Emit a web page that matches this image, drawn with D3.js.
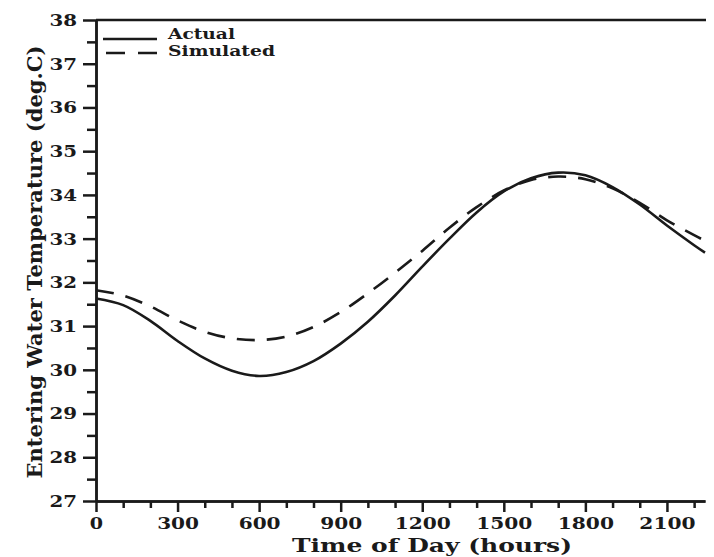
<!DOCTYPE html>
<html>
<head>
<title>Entering water temperature</title>
<script src="https://d3js.org/d3.v7.min.js" charset="utf-8"></script>
<style>
body { margin: 0; background: #fff; }
text { font-family: "DejaVu Serif", serif; font-weight: bold; fill: #1a1a1a; }
.axis path, .axis line { stroke: #1a1a1a; stroke-width: 2.5; }
</style>
</head>
<body>
<script>
// time of day (hours, hhmm) and temperatures (deg.C)
var hours = [0, 100, 200, 300, 400, 500, 600, 700, 800, 900, 1000, 1100,
             1200, 1300, 1400, 1500, 1600, 1700, 1800, 1900, 2000, 2100, 2200, 2240];
var actual = [31.63, 31.48, 31.12, 30.66, 30.26, 29.98, 29.86, 29.95, 30.2, 30.6, 31.1, 31.7,
              32.36, 33.0, 33.6, 34.08, 34.38, 34.51, 34.45, 34.18, 33.78, 33.3, 32.85, 32.68];
var simulated = [31.82, 31.7, 31.45, 31.13, 30.87, 30.72, 30.68, 30.76, 30.98, 31.32, 31.75, 32.22,
                 32.72, 33.25, 33.72, 34.1, 34.34, 34.42, 34.36, 34.15, 33.82, 33.42, 33.08, 32.95];
var xTicks = [0, 300, 600, 900, 1200, 1500, 1800, 2100];
var yTicks = [27, 28, 29, 30, 31, 32, 33, 34, 35, 36, 37, 38];

var width = 714, height = 557;

var svg = d3.select("body").append("svg")
  .attr("width", width)
  .attr("height", height);

var x = d3.scaleLinear().domain([0, 2240]).range([96, 705]);
var y = d3.scaleLinear().domain([27, 38]).range([501, 20]);

// minor ticks first so the major ones sit on top
svg.append("g").attr("class", "axis")
  .attr("transform", "translate(0,501)")
  .call(d3.axisBottom(x).tickValues(d3.range(100, 2300, 100).filter(function(d) { return d % 300 != 0; }))
    .tickSize(7).tickSizeOuter(0).tickFormat(""));

svg.append("g").attr("class", "axis")
  .attr("transform", "translate(96,0)")
  .call(d3.axisLeft(y).tickValues(d3.range(27.5, 38, 1)).tickSize(9).tickSizeOuter(0).tickFormat(""));

var xAxis = svg.append("g").attr("class", "axis")
  .attr("transform", "translate(0,501)")
  .call(d3.axisBottom(x).tickValues(xTicks).tickSize(11).tickSizeOuter(0).tickPadding(5)
    .tickFormat(d3.format("d")));

var yAxis = svg.append("g").attr("class", "axis")
  .attr("transform", "translate(96,0)")
  .call(d3.axisLeft(y).tickValues(yTicks).tickSize(13).tickSizeOuter(0).tickPadding(6)
    .tickFormat(d3.format("d")));

// wide, heavy tick labels like the plotter font
svg.selectAll(".axis text")
  .attr("font-size", 17)
  .attr("font-family", null)
  .attr("lengthAdjust", "spacingAndGlyphs")
  .attr("textLength", function(d) { return String(d).length * 14.3 - 1; });

// top frame line
svg.append("line")
  .attr("x1", x(0)).attr("x2", x(2240) + 1)
  .attr("y1", y(38)).attr("y2", y(38))
  .attr("stroke", "#1a1a1a").attr("stroke-width", 2.5);

var line = d3.line()
  .x(function(d, i) { return x(hours[i]); })
  .y(function(d) { return y(d); })
  .curve(d3.curveCatmullRom);

svg.append("path")
  .datum(simulated)
  .attr("d", line)
  .attr("fill", "none")
  .attr("stroke", "#1a1a1a")
  .attr("stroke-width", 2.6)
  .attr("stroke-dasharray", "18,12");

svg.append("path")
  .datum(actual)
  .attr("d", line)
  .attr("fill", "none")
  .attr("stroke", "#1a1a1a")
  .attr("stroke-width", 2.6);

// legend
var legend = svg.append("g");
legend.append("line")
  .attr("x1", 103).attr("x2", 157).attr("y1", 39).attr("y2", 39)
  .attr("stroke", "#1a1a1a").attr("stroke-width", 2.5);
legend.append("line")
  .attr("x1", 106).attr("x2", 157).attr("y1", 53).attr("y2", 53)
  .attr("stroke", "#1a1a1a").attr("stroke-width", 2.5)
  .attr("stroke-dasharray", "19,13");
legend.append("text").attr("x", 168).attr("y", 39)
  .attr("font-size", 15).attr("textLength", 67).attr("lengthAdjust", "spacingAndGlyphs")
  .text("Actual");
legend.append("text").attr("x", 168).attr("y", 56)
  .attr("font-size", 15).attr("textLength", 107).attr("lengthAdjust", "spacingAndGlyphs")
  .text("Simulated");

// axis titles
svg.append("text")
  .attr("x", 292).attr("y", 552)
  .attr("font-size", 19)
  .attr("textLength", 280).attr("lengthAdjust", "spacingAndGlyphs")
  .text("Time of Day (hours)");

svg.append("text")
  .attr("transform", "translate(42,262) rotate(-90)")
  .attr("text-anchor", "middle")
  .attr("font-size", 20)
  .attr("textLength", 433).attr("lengthAdjust", "spacingAndGlyphs")
  .text("Entering Water Temperature (deg.C)");
</script>
</body>
</html>
